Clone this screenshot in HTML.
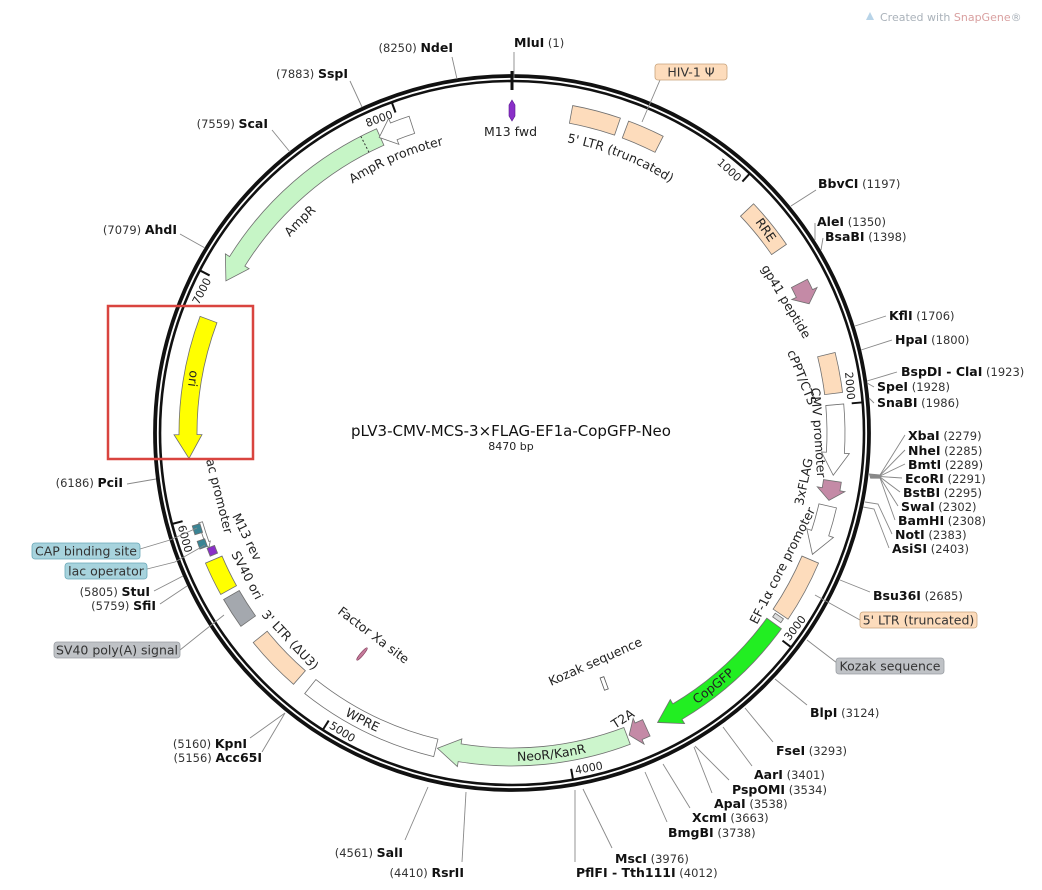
<!DOCTYPE html>
<html><head><meta charset="utf-8">
<style>
html,body{margin:0;padding:0;background:#fff;}
svg{display:block;}
text{font-family:"DejaVu Sans","Liberation Sans",sans-serif;}
.en{font-weight:bold;font-size:12.5px;fill:#111;}
.nm{font-size:11.5px;fill:#333;}
.fl{font-size:12.5px;fill:#222;}
.tk{font-size:11px;fill:#222;}
</style></head><body>
<svg id="s" width="1042" height="890" viewBox="0 0 1042 890" xmlns="http://www.w3.org/2000/svg">
<rect width="1042" height="890" fill="#fff"/>
<g id="g"></g>
<text x="880" y="21" style="font-size:11px;fill:#aab2ba">Created with <tspan fill="#d9a0a0">SnapGene</tspan>®</text>
<path d="M866 20 l4 -8 l4 8 z" fill="#b8d4e8"/>
<text x="511" y="436" text-anchor="middle" style="font-size:15px;fill:#111">pLV3-CMV-MCS-3×FLAG-EF1a-CopGFP-Neo</text>
<text x="511" y="450" text-anchor="middle" style="font-size:11px;fill:#222">8470 bp</text>
</svg>
<script>
var cx=512,cy=433,NS="http://www.w3.org/2000/svg",G=document.getElementById('g');
function P(r,a){a=a*Math.PI/180;return [(cx+r*Math.sin(a)).toFixed(2),(cy-r*Math.cos(a)).toFixed(2)];}
function el(t,at,txt){var e=document.createElementNS(NS,t);for(var k in at)e.setAttribute(k,at[k]);if(txt!==undefined)e.textContent=txt;G.appendChild(e);return e;}
function arc(r,a1,a2,sw){var l=Math.abs(a2-a1)>180?1:0;var p=P(r,a2);return " A"+r+" "+r+" 0 "+l+" "+sw+" "+p[0]+" "+p[1];}
var R1=315,R2=333,ST="#6f6f6f";
function box(a1,a2,fill,r1,r2){r1=r1||R1;r2=r2||R2;var p=P(r2,a1),q=P(r1,a2);
 el('path',{d:"M"+p[0]+" "+p[1]+arc(r2,a1,a2,1)+" L"+q[0]+" "+q[1]+arc(r1,a2,a1,0)+"Z",fill:fill,stroke:ST,'stroke-width':0.8});}
function arrCW(a1,a2,fill,h){h=h||3.9;var b=a2-h,rm=(R1+R2)/2;var p=P(R2,a1);var s="M"+p[0]+" "+p[1]+arc(R2,a1,b,1);
 var q=P(R2+5,b),t=P(rm,a2),u=P(R1-5,b),v=P(R1,b);s+=" L"+q.join(" ")+" L"+t.join(" ")+" L"+u.join(" ")+" L"+v.join(" ")+arc(R1,b,a1,0)+"Z";
 el('path',{d:s,fill:fill,stroke:ST,'stroke-width':0.8});}
function arrCCW(a1,a2,fill,h,r1,r2){h=h||3.9;var A=r1||R1,B=r2||R2;var b=a1+h,rm=(A+B)/2;var p=P(B,a2);var s="M"+p[0]+" "+p[1]+arc(B,a2,b,0);
 var w=(B-A)>10?5:1.5;var q=P(B+w,b),t=P(rm,a1),u=P(A-w,b),v=P(A,b);s+=" L"+q.join(" ")+" L"+t.join(" ")+" L"+u.join(" ")+" L"+v.join(" ")+arc(A,b,a2,1)+"Z";
 el('path',{d:s,fill:fill,stroke:ST,'stroke-width':0.8});}
// ring
el('circle',{cx:cx,cy:cy,r:357,fill:'none',stroke:'#111','stroke-width':3.8});
el('circle',{cx:cx,cy:cy,r:352,fill:'none',stroke:'#111','stroke-width':2.6});
// ticks
[1000,2000,3000,4000,5000,6000,7000,8000].forEach(function(n){var a=n/8470*360;var p=P(351,a),q=P(341,a);
 el('line',{x1:p[0],y1:p[1],x2:q[0],y2:q[1],stroke:'#111','stroke-width':2});
 var flip=(a>90&&a<270);var rot=flip?a-180:(a>270?a-360:a);
 var r=flip?347:337;var pt=P(r,a-0.6);
 el('text',{x:pt[0],y:pt[1],'class':'tk','text-anchor':flip?'start':'end',transform:"rotate("+rot.toFixed(1)+" "+pt[0]+" "+pt[1]+")"},String(n));});
(function(){var p=P(362,0),q=P(343,0);el('line',{x1:p[0],y1:p[1],x2:q[0],y2:q[1],stroke:'#111','stroke-width':3});})();
// features
var PE="#fddcbc",PK="#c48aa6";
box(10.5,19,PE);box(20.5,27,PE);
box(46.5,55.5,PE);
arrCW(62.5,66.5,PK,2);
box(76,83,PE);
arrCW(85,97.5,"#fff",4);
arrCW(98.5,102,PK,2);
arrCW(103,112,"#fff",4);
box(113,124,PE);
box(124.4,125.2,"#ddd",319,329);
arrCW(126,153.3,"#22ee22",4);
arrCW(155.5,158.8,PK,1.8);
arrCW(159.2,193.3,"#ccf5cc",4);
box(193.6,218.5,"#fff");
box(221,231,PE);
box(234.5,240,"#a4a8ae");
box(241,247,"#ffff00");
arrCCW(249.3,254,"#fff",1,322,326);
box(247.8,249.3,"#8a2fc8",318,326);
box(249.6,251,"#3a8494",325,333);
box(252.2,253.8,"#3a8494",325,333);
arrCCW(265.5,290.5,"#ffff00",4.2);
arrCCW(298,336,"#c6f5c6",4);
(function(){
 var a1=335.8,a2=342,h=2.8,b=a1+h;var p=P(R2,a2);var s="M"+p.join(" ")+arc(R2,a2,b,0);
 var q=P(R2+5,b),t=P(324,a1),u=P(R1-5,b),v=P(R1,b);s+=" L"+q.join(" ")+" L"+t.join(" ")+" L"+u.join(" ")+" L"+v.join(" ")+arc(R1,b,a2,1)+"Z";
 el('path',{d:s,fill:"#fff",stroke:ST,'stroke-width':0.8});
 var d1=P(R2,333),d2=P(R1,333);el('line',{x1:d1[0],y1:d1[1],x2:d2[0],y2:d2[1],stroke:'#333','stroke-dasharray':'2 2'});})();
el('path',{d:"M512 100 L515 105 L515 116 L512 121 L509 116 L509 105 Z",fill:"#8a2fc8",stroke:"#5a1a90",'stroke-width':0.6});
el('ellipse',{cx:362,cy:654,rx:1.6,ry:8,fill:"#c47a9a",stroke:"#7a3050",'stroke-width':0.5,transform:"rotate(40 362 654)"});
el('rect',{x:602,y:677,width:4,height:13,fill:"#fff",stroke:"#555",'stroke-width':0.8,transform:"rotate(-20 604 683)"});
var pid=0;
function cl(txt,r,a1,a2,sw){var id="p"+(pid++);var p=P(r,a1);el('path',{id:id,d:"M"+p.join(" ")+arc(r,a1,a2,sw),fill:'none'});
 var t=el('text',{'class':'fl','text-anchor':'middle'});var tp=document.createElementNS(NS,'textPath');tp.setAttribute('href','#'+id);tp.setAttribute('startOffset','50%');tp.textContent=txt;t.appendChild(tp);}
cl("AmpR promoter",296,322,352,1);
cl("AmpR",296,305,325,1);
cl("5' LTR (truncated)",296,5,38,1);
cl("WPRE",328,220,195,0);
cl("NeoR/KanR",328,190,156,0);
cl("CopGFP",328,155,128,0);
function rl(txt,x,y,rot){el('text',{x:x,y:y,'class':'fl',transform:"rotate("+rot+" "+x+" "+y+")"},txt);}
rl("gp41 peptide",761,268,59);
rl("cPPT/CTS",787,352,68);
rl("CMV promoter",811,388,86);
rl("3xFLAG",803,506,-78);
rl("EF-1α core promoter",757,625,-63);
rl("Kozak sequence",551,686,-24);
rl("T2A",615,729,-33);
rl("Factor Xa site",337,613,37);
rl("3' LTR (ΔU3)",261,615,47);
rl("SV40 ori",231,554,62);
rl("M13 rev",232,516,64);
rl("ac promoter",206,460,76);
rl("ori",190,370,97);
rl("RRE",755,222,55);
el('text',{x:484,y:136,'class':'fl'},"M13 fwd");
function en(name,num,x,y,left){var t=el('text',{x:x,y:y,'text-anchor':left?'end':'start'});
 function ts(c,s){var e=document.createElementNS(NS,'tspan');e.setAttribute('class',c);e.textContent=s;t.appendChild(e);}
 if(left){ts('nm','('+num+')  ');ts('en',name);}else{ts('en',name);ts('nm','  ('+num+')');}}
function ln(pts){el('polyline',{points:pts,fill:'none',stroke:'#888','stroke-width':0.9});}
en("MluI",1,514,47);ln("514,52 514,78");
en("NdeI",8250,453,52,1);ln("452,57 457,79");
en("SspI",7883,348,78,1);ln("350,81 362,107");
en("ScaI",7559,268,128,1);ln("272,130 290,152");
en("AhdI",7079,177,234,1);ln("180,234 205,248");
en("PciI",6186,123,487,1);ln("127,484 156,479");
en("StuI",5805,150,596,1);ln("154,591 183,576");
en("SfiI",5759,156,610,1);ln("160,604 187,586");
en("KpnI",5160,247,748,1);ln("250,738 285,713");
en("Acc65I",5156,262,762,1);ln("262,752 285,713");
en("SalI",4561,403,857,1);ln("405,840 428,787");
en("RsrII",4410,464,877,1);ln("462,862 466,792");
en("PflFI - Tth111I",4012,576,877);ln("575,862 575,790");
en("MscI",3976,615,863);ln("612,848 583,789");
en("BmgBI",3738,668,837);ln("667,822 645,772");
en("XcmI",3663,692,822);ln("690,808 663,764");
en("ApaI",3538,714,808);ln("712,793 694,747");
en("PspOMI",3534,732,794);ln("729,780 695,746");
en("AarI",3401,754,779);ln("752,766 723,727");
en("FseI",3293,776,755);ln("773,742 745,708");
en("BlpI",3124,810,717);ln("807,705 775,679");
en("Bsu36I",2685,873,600);ln("840,580 870,592");
var mcs=[["XbaI",2279,908,440],["NheI",2285,908,455],["BmtI",2289,908,469],["EcoRI",2291,905,483],["BstBI",2295,903,497],["SwaI",2302,901,511],["BamHI",2308,898,525]];
mcs.forEach(function(m,i){en(m[0],m[1],m[2],m[3]);ln((869+(i*0.2))+","+(474+i*0.7)+" 880,"+(475+i*0.5)+" "+(m[2]-3)+","+(m[3]-5));});
en("NotI",2383,895,539);ln("865,502 878,504 892,534");
en("AsiSI",2403,892,553);ln("863,507 874,509 889,548");
en("SnaBI",1986,877,407);ln("869,398 874,403");
en("SpeI",1928,877,391);ln("867,383 874,387");
en("BspDI - ClaI",1923,901,376);ln("867,381 897,372");
en("HpaI",1800,895,344);ln("861,350 892,340");
en("KflI",1706,889,320);ln("855,326 886,316");
en("BsaBI",1398,825,241);ln("821,250 823,238");
en("AleI",1350,817,226);ln("815,240 815,223");
en("BbvCI",1197,818,188);ln("791,206 816,190");
function cb(txt,x,y,w,fill,stroke){el('rect',{x:x,y:y,width:w,height:16,rx:3,fill:fill,stroke:stroke,'stroke-width':0.8});
 el('text',{x:x+w/2,y:y+12.5,'text-anchor':'middle',style:'font-size:12.5px;fill:#333'},txt);}
ln("660,80 642,122");cb("HIV-1 Ψ",655,64,72,"#fddcbc","#c8a37b");
ln("860,620 833,605 815,595");cb("5' LTR (truncated)",860,612,117,"#fddcbc","#c8a37b");
ln("837,663 807,640");cb("Kozak sequence",836,658,108,"#bfc2c6","#9a9ea4");
ln("140,549 170,540 197,528");cb("CAP binding site",32,543,108,"#a7d3dd","#6aa8b8");
ln("147,569 175,562 205,545");cb("lac operator",65,563,82,"#a7d3dd","#6aa8b8");
ln("180,650 205,630 224,615");cb("SV40 poly(A) signal",54,642,126,"#bfc2c6","#9a9ea4");
el('rect',{x:108,y:306,width:145,height:153,fill:'none',stroke:'#d9443f','stroke-width':2.5});
</script>
</body></html>
